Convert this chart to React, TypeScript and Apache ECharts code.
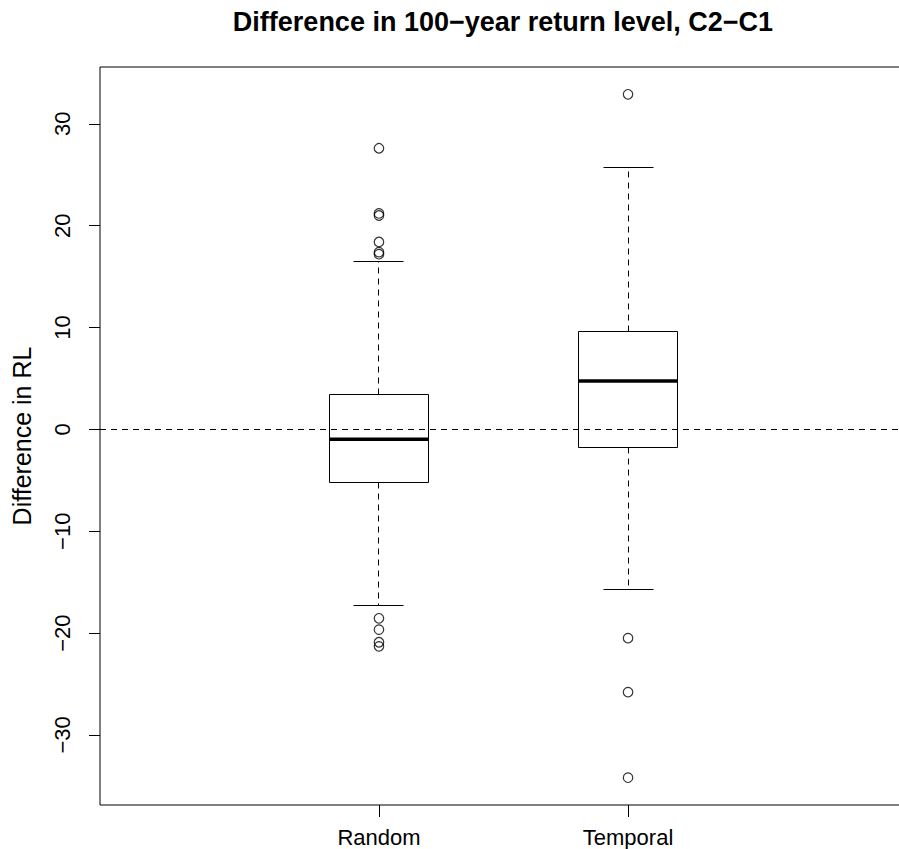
import React, { useEffect, useRef } from "react";
import * as echarts from "echarts";

const categories = ["Random", "Temporal"];
const positions = [1, 2];
const lowerWhisker = [-17.3, -15.7];
const lowerQuartile = [-5.18, -1.81];
const medians = [-0.96, 4.75];
const upperQuartile = [3.45, 9.6];
const upperWhisker = [16.5, 25.7];
const randomOutliers = [27.6, 21.2, 21.0, 18.4, 17.4, 17.2, -18.55, -19.66, -20.9, -21.3];
const temporalOutliers = [32.9, -20.5, -25.8, -34.2];
const yTicks = [-30, -20, -10, 0, 10, 20, 30];

const FONT = "'Liberation Sans', Arial, Helvetica, sans-serif";

const px = (v: number) => Math.round(v - 0.5) + 0.5;

export default function App() {
  const ref = useRef<HTMLDivElement>(null);
  useEffect(() => {
    if (!ref.current) return;
    const chart = echarts.init(ref.current, undefined, { renderer: "svg" });
    const boxData = positions.map((p, i) => [
      p,
      lowerWhisker[i],
      lowerQuartile[i],
      medians[i],
      upperQuartile[i],
      upperWhisker[i],
    ]);
    const outlierData = [
      ...randomOutliers.map((v) => [positions[0], v]),
      ...temporalOutliers.map((v) => [positions[1], v]),
    ];
    const option: any = {
      animation: false,
      backgroundColor: "#fff",
      title: {
        text: "Difference in 100\u2212year return level, C2\u2212C1",
        left: 498,
        top: 3,
        textAlign: "center",
        textStyle: { fontFamily: FONT, fontWeight: "bold", fontSize: 27, color: "#000" },
      },
      grid: {
        left: 100,
        width: 807,
        top: 67,
        bottom: 44,
        show: true,
        borderColor: "#000",
        borderWidth: 1,
        backgroundColor: "transparent",
      },
      xAxis: {
        type: "value",
        min: -0.12,
        max: 3.12,
        splitLine: { show: false },
        axisLine: { show: false, onZero: false },
        axisTick: { show: true, length: 12, customValues: positions, lineStyle: { color: "#000" } },
        axisLabel: {
          customValues: positions,
          margin: 21,
          fontFamily: FONT,
          fontSize: 22,
          color: "#000",
          formatter: (v: number) => categories[positions.indexOf(v)] ?? "",
        },
      },
      yAxis: {
        type: "value",
        min: -36.88,
        max: 35.58,
        name: "Difference in RL",
        nameLocation: "middle",
        nameGap: 66,
        nameTextStyle: { fontFamily: FONT, fontSize: 25, color: "#000" },
        splitLine: { show: false },
        axisLine: { show: false, onZero: false },
        axisTick: { show: true, length: 11, customValues: yTicks, lineStyle: { color: "#000" } },
        axisLabel: {
          customValues: yTicks,
          rotate: 90,
          margin: 27,
          fontFamily: FONT,
          fontSize: 22,
          color: "#000",
          formatter: (v: number) => String(v).replace("-", "\u2212"),
        },
      },
      series: [
        {
          type: "custom",
          data: boxData,
          encode: { x: 0, y: [1, 2, 3, 4, 5] },
          renderItem: (params: any, api: any) => {
            const x = api.value(0);
            const lo = api.coord([x, api.value(1)]);
            const q1 = api.coord([x, api.value(2)]);
            const md = api.coord([x, api.value(3)]);
            const q3 = api.coord([x, api.value(4)]);
            const hi = api.coord([x, api.value(5)]);
            const half = api.size([0.2, 0])[0];
            const stp = api.size([0.1, 0])[0];
            const cx = px(lo[0]);
            const yLo = px(lo[1]);
            const yQ1 = px(q1[1]);
            const yQ3 = px(q3[1]);
            const yHi = px(hi[1]);
            const left = px(lo[0] - half);
            const right = px(lo[0] + half);
            const black = "#000";
            const dashed = { stroke: black, lineWidth: 1, lineDash: [6, 5] };
            const solid = { stroke: black, lineWidth: 1 };
            return {
              type: "group",
              children: [
                { type: "line", shape: { x1: cx, y1: yQ3, x2: cx, y2: yHi }, style: dashed },
                { type: "line", shape: { x1: cx, y1: yQ1, x2: cx, y2: yLo }, style: dashed },
                { type: "line", shape: { x1: px(cx - stp), y1: yHi, x2: px(cx + stp), y2: yHi }, style: solid },
                { type: "line", shape: { x1: px(cx - stp), y1: yLo, x2: px(cx + stp), y2: yLo }, style: solid },
                {
                  type: "rect",
                  shape: { x: left, y: yQ3, width: right - left, height: yQ1 - yQ3 },
                  style: { fill: "none", stroke: black, lineWidth: 1 },
                },
                {
                  type: "line",
                  shape: { x1: left, y1: md[1], x2: right, y2: md[1] },
                  style: { stroke: black, lineWidth: 3.5 },
                },
              ],
            };
          },
        },
        {
          type: "scatter",
          data: outlierData,
          symbol: "circle",
          symbolSize: 9.5,
          itemStyle: { color: "transparent", borderColor: "#000", borderWidth: 1.2 },
          markLine: {
            silent: true,
            symbol: ["none", "none"],
            label: { show: false },
            lineStyle: { color: "#000", width: 1, type: [6, 5] },
            data: [{ yAxis: 0 }],
          },
        },
      ],
    };
    chart.setOption(option);
    return () => chart.dispose();
  }, []);
  return (
    <div
      style={{
        position: "absolute",
        left: 0,
        top: 0,
        width: 899,
        height: 849,
        overflow: "hidden",
        background: "#fff",
      }}
    >
      <div ref={ref} style={{ width: 920, height: 849 }} />
    </div>
  );
}
